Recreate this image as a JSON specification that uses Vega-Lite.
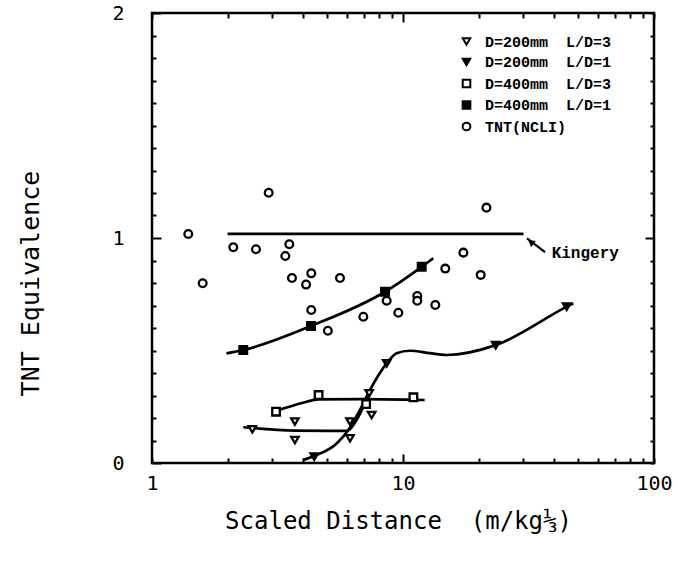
{
  "$schema": "https://vega.github.io/schema/vega-lite/v6.json",
  "width": 502,
  "height": 450,
  "autosize": "none",
  "padding": {"left": 152, "top": 13, "right": 23, "bottom": 100},
  "background": "white",
  "config": {
    "font": "DejaVu Sans Mono",
    "view": {"stroke": "black", "strokeWidth": 2.5},
    "axis": {"grid": false, "domain": false, "tickColor": "black", "tickWidth": 2, "labelColor": "black", "titleColor": "black", "labelFont": "DejaVu Sans Mono", "titleFont": "DejaVu Sans Mono", "labelOverlap": false, "labelFlush": false}
  },
  "resolve": {"axis": {"x": "independent", "y": "independent"}},
  "layer": [
    {
      "data": {"values": [
        {"c": "a", "x": 1.98, "y": 0.487}, {"c": "a", "x": 2.31, "y": 0.502}, {"c": "a", "x": 4.30, "y": 0.609}, {"c": "a", "x": 8.48, "y": 0.761}, {"c": "a", "x": 11.87, "y": 0.872}, {"c": "a", "x": 13.2, "y": 0.91},
        {"c": "b", "x": 3.12, "y": 0.232}, {"c": "b", "x": 4.0, "y": 0.268}, {"c": "b", "x": 4.61, "y": 0.283}, {"c": "b", "x": 7.0, "y": 0.284}, {"c": "b", "x": 12.2, "y": 0.28},
        {"c": "d", "x": 2.31, "y": 0.159}, {"c": "d", "x": 3.71, "y": 0.144}, {"c": "d", "x": 6.0, "y": 0.143}, {"c": "d", "x": 6.6, "y": 0.2}, {"c": "d", "x": 7.33, "y": 0.31},
        {"c": "e", "x": 4.0, "y": 0.013}, {"c": "e", "x": 4.43, "y": 0.031}, {"c": "e", "x": 5.44, "y": 0.087}, {"c": "e", "x": 6.06, "y": 0.147}, {"c": "e", "x": 6.74, "y": 0.236}, {"c": "e", "x": 7.38, "y": 0.324}, {"c": "e", "x": 8.61, "y": 0.443}, {"c": "e", "x": 9.43, "y": 0.488}, {"c": "e", "x": 10.65, "y": 0.499}, {"c": "e", "x": 12.8, "y": 0.488}, {"c": "e", "x": 14.9, "y": 0.48}, {"c": "e", "x": 23.4, "y": 0.524}, {"c": "e", "x": 44.9, "y": 0.695}, {"c": "e", "x": 47.7, "y": 0.71}
      ]},
      "mark": {"type": "line", "interpolate": "monotone", "color": "black", "strokeWidth": 2.7},
      "encoding": {
        "x": {"field": "x", "type": "quantitative", "scale": {"type": "log", "domain": [1, 100], "nice": false},
          "axis": {"orient": "bottom", "title": "Scaled Distance\u00a0\u00a0(m/kg\u2153)", "titleFontSize": 24, "titleFontWeight": "normal", "titleX": 246, "titleY": 58, "titleBaseline": "middle",
            "values": [1,2,3,4,5,6,7,8,9,10,20,30,40,50,60,70,80,90,100],
            "tickSize": {"condition": {"test": "datum.value == 10", "value": -9}, "value": -5},
            "labelExpr": "datum.value == 1 ? '1' : datum.value == 10 ? '10' : datum.value == 100 ? '100' : ''",
            "labelFontSize": 20, "labelPadding": {"condition": {"test": "datum.value == 10", "value": 19}, "value": 15}}},
        "y": {"field": "y", "type": "quantitative", "scale": {"domain": [0, 2], "nice": false, "zero": false},
          "axis": {"orient": "left", "title": "TNT Equivalence", "titleFontSize": 25, "titleFontWeight": "normal", "titleX": -122, "titleY": 270, "titleBaseline": "middle", "titleAngle": -90,
            "values": [0,0.1,0.2,0.3,0.4,0.5,0.6,0.7,0.8,0.9,1,1.1,1.2,1.3,1.4,1.5,1.6,1.7,1.8,1.9,2],
            "tickSize": {"condition": {"test": "datum.value == 0 || datum.value == 1 || datum.value == 2", "value": -9}, "value": -4},
            "labelExpr": "datum.value == 0 ? '0' : datum.value == 1 ? '1' : datum.value == 2 ? '2' : ''",
            "labelFontSize": 20, "labelPadding": 37}},
        "detail": {"field": "c"}
      }
    },
    {
      "data": {"values": [
        {"s": "D=200mm\u00a0\u00a0L/D=3", "x": 2.51, "y": 0.150}, {"s": "D=200mm\u00a0\u00a0L/D=3", "x": 3.71, "y": 0.184}, {"s": "D=200mm\u00a0\u00a0L/D=3", "x": 3.71, "y": 0.102}, {"s": "D=200mm\u00a0\u00a0L/D=3", "x": 6.15, "y": 0.184}, {"s": "D=200mm\u00a0\u00a0L/D=3", "x": 6.15, "y": 0.110}, {"s": "D=200mm\u00a0\u00a0L/D=3", "x": 7.33, "y": 0.31}, {"s": "D=200mm\u00a0\u00a0L/D=3", "x": 7.50, "y": 0.213},
        {"s": "D=200mm\u00a0\u00a0L/D=1", "x": 4.43, "y": 0.028}, {"s": "D=200mm\u00a0\u00a0L/D=1", "x": 8.61, "y": 0.443}, {"s": "D=200mm\u00a0\u00a0L/D=1", "x": 23.4, "y": 0.524}, {"s": "D=200mm\u00a0\u00a0L/D=1", "x": 44.9, "y": 0.695},
        {"s": "D=400mm\u00a0\u00a0L/D=3", "x": 3.12, "y": 0.228}, {"s": "D=400mm\u00a0\u00a0L/D=3", "x": 4.61, "y": 0.302}, {"s": "D=400mm\u00a0\u00a0L/D=3", "x": 7.13, "y": 0.262}, {"s": "D=400mm\u00a0\u00a0L/D=3", "x": 11.0, "y": 0.292},
        {"s": "D=400mm\u00a0\u00a0L/D=1", "x": 2.31, "y": 0.502}, {"s": "D=400mm\u00a0\u00a0L/D=1", "x": 4.30, "y": 0.609}, {"s": "D=400mm\u00a0\u00a0L/D=1", "x": 8.48, "y": 0.761}, {"s": "D=400mm\u00a0\u00a0L/D=1", "x": 11.87, "y": 0.872},
        {"s": "TNT(NCLI)", "x": 1.395, "y": 1.018}, {"s": "TNT(NCLI)", "x": 1.592, "y": 0.799}, {"s": "TNT(NCLI)", "x": 2.917, "y": 1.201}, {"s": "TNT(NCLI)", "x": 2.108, "y": 0.959}, {"s": "TNT(NCLI)", "x": 2.596, "y": 0.950}, {"s": "TNT(NCLI)", "x": 3.524, "y": 0.972}, {"s": "TNT(NCLI)", "x": 3.398, "y": 0.920}, {"s": "TNT(NCLI)", "x": 3.611, "y": 0.822}, {"s": "TNT(NCLI)", "x": 4.31, "y": 0.843}, {"s": "TNT(NCLI)", "x": 4.11, "y": 0.793}, {"s": "TNT(NCLI)", "x": 5.61, "y": 0.822}, {"s": "TNT(NCLI)", "x": 4.31, "y": 0.680}, {"s": "TNT(NCLI)", "x": 6.95, "y": 0.650}, {"s": "TNT(NCLI)", "x": 8.61, "y": 0.721}, {"s": "TNT(NCLI)", "x": 9.58, "y": 0.668}, {"s": "TNT(NCLI)", "x": 11.4, "y": 0.742}, {"s": "TNT(NCLI)", "x": 11.4, "y": 0.721}, {"s": "TNT(NCLI)", "x": 13.45, "y": 0.702}, {"s": "TNT(NCLI)", "x": 14.74, "y": 0.864}, {"s": "TNT(NCLI)", "x": 17.4, "y": 0.935}, {"s": "TNT(NCLI)", "x": 20.4, "y": 0.836}, {"s": "TNT(NCLI)", "x": 21.5, "y": 1.135}, {"s": "TNT(NCLI)", "x": 5.02, "y": 0.588}
      ]},
      "mark": {"type": "point", "filled": true, "stroke": "black", "strokeWidth": 2.3, "opacity": 1},
      "encoding": {
        "x": {"field": "x", "type": "quantitative", "scale": {"type": "log", "domain": [1, 100], "nice": false},
          "axis": {"orient": "top", "title": null, "labels": false,
            "values": [1,2,3,4,5,6,7,8,9,10,20,30,40,50,60,70,80,90,100],
            "tickSize": {"condition": {"test": "datum.value == 10", "value": -9}, "value": -5}}},
        "y": {"field": "y", "type": "quantitative", "scale": {"domain": [0, 2], "nice": false, "zero": false},
          "axis": {"orient": "right", "title": null, "labels": false,
            "values": [0,0.1,0.2,0.3,0.4,0.5,0.6,0.7,0.8,0.9,1,1.1,1.2,1.3,1.4,1.5,1.6,1.7,1.8,1.9,2],
            "tickSize": {"condition": {"test": "datum.value == 1", "value": -9}, "value": -4}}},
        "shape": {"field": "s", "type": "nominal",
          "scale": {"domain": ["D=200mm\u00a0\u00a0L/D=3", "D=200mm\u00a0\u00a0L/D=1", "D=400mm\u00a0\u00a0L/D=3", "D=400mm\u00a0\u00a0L/D=1", "TNT(NCLI)"], "range": ["triangle-down", "triangle-down", "square", "square", "circle"]},
          "legend": {"title": null, "orient": "none", "legendX": 307, "legendY": 21, "padding": 0, "labelFont": "Liberation Mono", "labelFontWeight": "bold", "labelFontSize": 15, "labelColor": "black", "labelOffset": 11, "rowPadding": 4.5, "symbolStrokeColor": "black", "symbolStrokeWidth": 2}},
        "fill": {"field": "s", "type": "nominal",
          "scale": {"domain": ["D=200mm\u00a0\u00a0L/D=3", "D=200mm\u00a0\u00a0L/D=1", "D=400mm\u00a0\u00a0L/D=3", "D=400mm\u00a0\u00a0L/D=1", "TNT(NCLI)"], "range": ["white", "black", "white", "black", "white"]},
          "legend": {"title": null}},
        "size": {"field": "s", "type": "nominal",
          "scale": {"domain": ["D=200mm\u00a0\u00a0L/D=3", "D=200mm\u00a0\u00a0L/D=1", "D=400mm\u00a0\u00a0L/D=3", "D=400mm\u00a0\u00a0L/D=1", "TNT(NCLI)"], "range": [55, 60, 45, 55, 24]},
          "legend": {"title": null}}
      }
    },
    {
      "data": {"values": [{"x": 2.0, "y": 1.018}, {"x": 30.2, "y": 1.018}]},
      "mark": {"type": "line", "color": "black", "strokeWidth": 2.7},
      "encoding": {
        "x": {"field": "x", "type": "quantitative", "scale": {"type": "log", "domain": [1, 100], "nice": false}, "axis": null},
        "y": {"field": "y", "type": "quantitative", "scale": {"domain": [0, 2], "nice": false, "zero": false}, "axis": null}
      }
    },
    {
      "data": {"values": [{"x": 36.8, "y": 0.937, "x2": 31.2, "y2": 0.998}]},
      "mark": {"type": "rule", "color": "black", "strokeWidth": 2.2},
      "encoding": {
        "x": {"field": "x", "type": "quantitative", "scale": {"type": "log", "domain": [1, 100], "nice": false}, "axis": null},
        "y": {"field": "y", "type": "quantitative", "scale": {"domain": [0, 2], "nice": false, "zero": false}, "axis": null},
        "x2": {"field": "x2"},
        "y2": {"field": "y2"}
      }
    },
    {
      "data": {"values": [{"x": 32.3, "y": 0.982}]},
      "mark": {"type": "point", "shape": "triangle-up", "filled": true, "color": "black", "size": 60, "angle": 307, "opacity": 1},
      "encoding": {
        "x": {"field": "x", "type": "quantitative", "scale": {"type": "log", "domain": [1, 100], "nice": false}, "axis": null},
        "y": {"field": "y", "type": "quantitative", "scale": {"domain": [0, 2], "nice": false, "zero": false}, "axis": null}
      }
    },
    {
      "data": {"values": [{"x": 39.1, "y": 0.933, "t": "Kingery"}]},
      "mark": {"type": "text", "align": "left", "baseline": "middle", "font": "Liberation Mono", "fontWeight": "bold", "fontSize": 16, "color": "black"},
      "encoding": {
        "x": {"field": "x", "type": "quantitative", "scale": {"type": "log", "domain": [1, 100], "nice": false}, "axis": null},
        "y": {"field": "y", "type": "quantitative", "scale": {"domain": [0, 2], "nice": false, "zero": false}, "axis": null},
        "text": {"field": "t"}
      }
    }
  ]
}
